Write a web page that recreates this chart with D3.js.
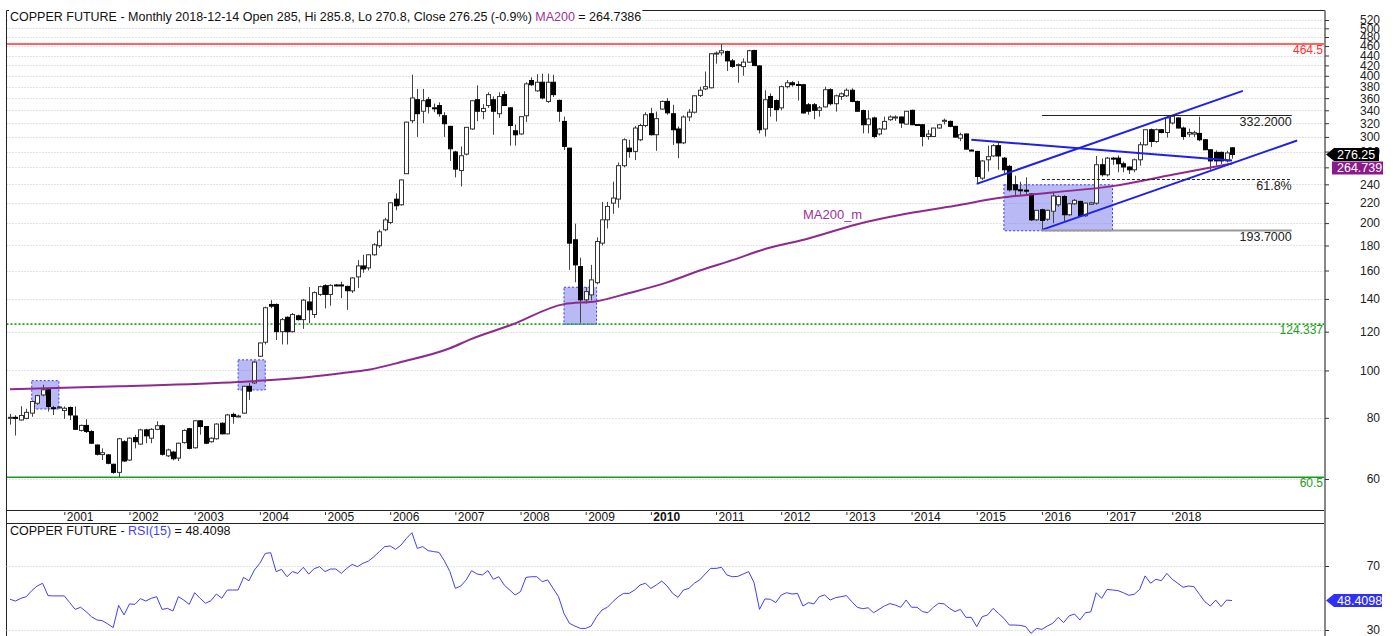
<!DOCTYPE html>
<html>
<head><meta charset="utf-8">
<style>
  body { margin: 0; background: #fff; }
  svg text { font-family: "Liberation Sans", Arial, sans-serif; }
</style>
</head>
<body>
<script src="https://d3js.org/d3.v7.min.js"></script>
<script>
// monthly candles, first one is 2000-03, last one 2018-12
var firstMonth = "2000-03";

var opens = [80.0,80.2,79.2,79.8,81.8,85.7,89.1,91.3,83.9,84.0,
  82.8,84.0,80.7,75.4,77.2,75.0,70.4,67.3,67.2,64.3,
  61.9,71.5,65.6,72.9,70.7,75.6,72.7,75.8,77.1,66.9,
  68.1,66.2,71.2,76.0,69.5,78.9,76.8,71.5,72.5,78.0,
  74.2,81.3,80.5,81.8,92.8,94.3,106.9,114.2,136.4,136.4,
  120.0,128.4,120.0,129.3,127.0,138.0,130.1,143.0,149.0,143.0,
  149.5,149.5,148.5,145.4,155.3,163.5,162.0,172.3,179.8,193.8,
  200.6,223.8,218.0,252.3,323.8,357.4,338.5,357.4,344.0,347.7,
  331.4,315.3,279.5,256.1,276.7,311.4,357.4,338.0,347.7,357.4,
  334.6,366.0,344.0,308.8,304.2,331.4,391.2,372.6,388.0,354.5,
  388.0,356.3,322.7,284.6,184.9,163.0,139.4,142.7,151.1,182.0,
  203.1,219.7,223.9,262.0,284.6,280.2,296.0,316.5,334.6,303.1,
  342.0,354.5,334.6,311.4,291.7,329.5,337.0,364.7,376.0,378.0,
  444.0,445.6,448.5,429.0,421.0,417.6,426.5,450.6,419.0,311.4,
  362.9,356.0,344.0,380.0,387.0,384.0,383.5,349.0,349.0,340.0,
  345.5,374.6,350.7,362.9,364.0,373.7,354.5,339.6,317.7,328.0,
  304.2,311.4,325.3,329.0,329.5,318.6,340.0,318.0,317.7,300.6,
  300.6,312.8,324.0,322.7,315.3,298.2,304.2,282.0,280.2,247.1,
  269.4,274.3,287.9,271.5,261.2,239.5,233.9,233.5,229.4,203.1,
  213.0,203.7,211.5,218.0,226.6,208.0,219.0,221.5,207.0,218.5,
  219.7,263.2,251.0,271.5,271.5,264.4,260.4,257.0,269.4,289.1,
  310.3,293.6,310.3,306.3,320.3,328.0,312.8,304.0,304.0,305.0,
  296.0,282.4,279.0,279.0,268.0,285.0];

var highs = [81.5,81.0,84.5,83.5,86.8,89.2,93.5,91.8,84.6,84.5,
  84.4,84.4,84.4,77.5,79.5,75.5,70.6,69.3,67.5,64.5,
  72.8,72.0,73.0,73.9,76.0,76.0,76.2,78.7,77.5,69.2,
  68.5,71.2,75.8,76.3,79.2,79.2,77.0,73.0,78.0,78.3,
  81.5,82.0,81.2,93.0,94.3,104.5,114.0,135.0,139.2,137.0,
  128.0,129.0,131.0,130.0,140.0,148.0,145.0,149.0,150.0,150.0,
  150.2,151.8,149.0,155.0,168.0,172.3,172.5,182.0,194.0,205.0,
  220.5,230.0,245.5,322.0,402.0,376.0,376.0,362.0,351.0,353.0,
  337.0,316.0,281.0,286.8,314.0,356.5,382.3,350.0,370.0,363.0,
  370.0,372.0,345.0,318.0,331.0,388.0,397.0,403.0,404.0,404.0,
  402.0,357.5,330.0,285.0,199.5,170.0,148.0,164.3,187.0,221.0,
  221.0,243.0,266.0,298.0,296.0,316.0,319.0,337.0,344.0,338.0,
  356.0,360.0,349.0,315.0,332.0,342.0,365.0,380.0,408.0,444.5,
  448.5,464.5,450.0,433.0,424.0,434.0,452.0,452.0,420.0,373.7,
  368.0,358.0,382.0,392.0,390.0,390.0,385.0,352.0,352.0,347.0,
  380.0,377.0,366.0,370.0,377.0,377.0,356.0,341.0,340.0,330.0,
  313.0,330.0,332.0,332.0,330.0,339.0,341.0,318.5,318.0,310.0,
  313.0,318.0,327.0,324.0,316.0,306.0,305.0,283.0,281.0,269.0,
  288.0,290.0,292.6,273.0,263.0,250.0,243.0,248.0,230.0,212.4,
  214.0,213.0,232.0,228.0,228.0,220.0,224.0,222.0,220.0,221.0,
  274.3,271.0,273.0,273.0,275.0,267.0,261.0,271.0,293.0,310.5,
  312.0,312.0,311.0,332.0,332.2,329.0,315.0,312.0,309.0,330.0,
  297.0,283.0,281.5,280.0,281.0,285.8];

var lows = [77.5,73.6,79.0,79.5,80.4,85.0,88.5,82.4,81.1,83.6,
  79.6,79.2,75.6,75.0,74.5,70.8,67.0,65.6,64.3,61.5,
  60.5,65.0,65.3,69.3,70.5,71.0,71.0,75.5,67.0,66.5,
  65.5,65.3,70.9,69.0,69.2,73.9,70.7,71.2,72.2,74.0,
  74.0,77.8,80.2,81.5,87.1,93.8,106.5,113.0,134.0,115.4,
  113.0,113.0,119.5,126.5,121.6,124.9,128.0,142.0,133.9,135.6,
  148.5,140.5,133.0,144.0,147.5,158.3,160.0,171.5,178.0,192.5,
  199.0,212.4,217.0,252.0,320.0,300.0,320.0,335.0,337.0,330.0,
  300.0,268.0,248.0,237.6,275.0,310.0,323.0,326.0,344.0,303.0,
  328.0,347.0,288.0,288.0,303.0,322.0,381.0,371.0,358.0,352.0,
  362.0,322.0,282.0,160.5,151.4,125.1,137.0,139.0,150.0,180.0,
  195.0,209.0,215.0,260.0,272.0,269.0,294.0,314.0,302.0,281.0,
  341.0,333.0,289.0,271.5,290.0,323.0,335.0,362.0,374.0,377.0,
  423.5,440.0,409.0,415.0,387.0,400.0,425.0,419.0,305.0,300.6,
  330.0,322.7,340.0,377.0,380.0,356.0,335.0,333.0,326.0,330.0,
  344.5,348.0,338.0,357.0,362.0,353.0,338.0,305.0,305.0,298.0,
  302.0,310.0,323.5,323.5,313.0,318.0,317.0,317.0,287.0,296.0,
  300.0,312.0,318.0,314.0,299.0,294.0,283.0,281.0,241.0,245.0,
  255.0,273.0,257.0,253.0,232.0,226.6,228.0,228.0,202.0,202.0,
  193.7,202.0,200.0,216.0,202.0,207.0,218.0,206.0,206.0,218.0,
  218.0,249.0,249.0,263.0,254.0,254.0,252.0,254.0,262.0,288.0,
  286.0,292.0,305.0,299.0,318.0,312.5,296.0,300.0,300.0,294.0,
  282.0,257.0,262.0,264.0,266.0,270.8];

var closes = [80.2,79.8,80.9,82.1,86.4,88.8,91.3,84.4,83.5,84.2,
  83.7,81.1,75.8,77.2,75.0,71.0,67.4,67.9,64.6,61.9,
  72.5,65.3,72.7,71.5,75.6,73.5,75.8,77.1,67.4,68.8,
  66.0,71.0,75.4,69.3,78.9,76.8,71.0,72.7,77.7,74.2,
  81.1,80.5,80.7,92.8,90.7,104.0,113.8,134.3,135.3,120.0,
  127.0,120.0,130.1,127.0,139.2,133.0,144.2,148.3,143.0,149.2,
  149.3,148.8,145.5,154.5,163.5,161.2,172.3,180.6,192.0,203.0,
  220.0,217.0,245.0,321.6,360.3,334.6,355.7,346.0,343.5,334.6,
  319.2,283.7,257.8,274.6,313.8,355.7,338.5,343.0,366.0,338.5,
  362.9,347.7,316.5,303.0,330.0,385.0,383.5,388.0,360.3,388.0,
  366.0,338.5,286.9,182.0,164.3,139.4,144.9,153.1,183.4,203.1,
  216.3,225.0,262.0,296.0,280.0,312.8,316.5,333.0,303.1,326.9,
  354.5,336.0,310.3,291.7,329.5,337.0,364.0,373.7,380.0,443.7,
  445.0,450.0,429.0,418.0,421.5,426.5,450.0,419.6,310.3,357.4,
  344.6,341.0,380.0,387.0,383.5,383.5,335.8,338.5,340.0,344.0,
  374.6,350.7,364.0,367.5,373.7,354.5,338.5,317.7,326.5,300.6,
  311.4,322.7,329.5,329.5,320.3,338.5,317.7,317.5,300.6,304.0,
  312.8,317.7,324.4,315.3,299.7,303.1,283.2,281.5,249.0,267.9,
  273.4,287.9,274.3,257.0,233.9,233.9,233.5,233.0,203.1,212.4,
  202.5,212.4,227.2,226.6,208.0,219.0,222.6,207.0,219.7,220.0,
  263.2,251.1,271.5,271.0,264.4,260.4,257.0,269.4,289.1,310.3,
  293.6,310.3,306.3,328.0,330.6,312.8,300.6,306.3,306.0,296.0,
  282.4,268.0,268.0,268.0,278.2,276.25];

var rsi15 = [49.2,48.1,49.8,50.8,54.6,57.5,59.2,51.5,51.3,51.3,
  51.3,47.1,42.9,44.2,41.5,38.3,36.3,35.8,33.8,31.5,
  45.4,39.4,46.3,46.0,49.6,48.1,49.8,50.8,42.9,43.5,
  41.9,50.8,48.7,46.0,53.3,49.8,46.7,48.3,52.5,49.8,
  55.0,55.0,55.0,62.9,60.8,67.5,71.7,77.9,78.3,66.5,
  67.9,63.3,66.5,65.4,69.2,65.0,68.3,69.6,66.5,68.1,
  68.1,65.4,68.5,71.0,69.6,71.7,73.1,75.8,79.0,82.1,
  82.5,80.4,83.1,87.3,90.8,81.0,82.1,79.6,79.0,78.5,
  73.1,66.5,56.0,57.5,61.3,67.1,65.0,64.4,67.1,61.7,
  63.3,58.1,55.0,51.9,54.0,62.9,63.3,63.3,60.2,61.3,
  56.0,50.8,40.4,34.2,32.5,31.0,31.0,32.5,38.3,42.5,
  44.2,47.7,50.8,52.9,52.9,55.0,58.1,59.2,56.0,58.1,
  60.6,57.5,52.9,50.4,55.0,56.0,59.2,61.3,65.0,68.5,
  68.5,69.2,64.4,63.3,63.5,65.0,66.5,59.6,42.9,49.4,
  49.2,47.1,51.9,53.3,52.5,52.9,45.0,47.1,46.3,50.8,
  51.9,48.7,50.2,50.8,51.5,47.7,44.2,43.3,43.9,40.8,
  42.9,45.0,46.5,45.6,44.2,48.7,44.2,44.2,41.5,40.8,
  44.2,46.7,46.3,43.5,41.5,42.9,37.9,37.9,32.1,38.3,
  39.4,43.5,40.4,37.3,33.1,33.1,32.9,32.1,27.9,31.0,
  30.4,32.5,34.2,37.9,34.6,38.8,40.0,36.3,40.8,41.3,
  53.3,49.8,55.4,55.0,54.6,53.3,51.7,52.3,55.4,63.8,
  59.2,61.7,60.8,65.4,61.7,59.2,56.7,57.5,57.1,52.3,
  47.7,45.0,48.7,44.6,48.7,48.4098];

// MA200
var maMonths = ["2000-03","2001-11","2003-09","2004-10","2005-04","2005-09","2006-03","2006-12",
  "2007-04","2007-11","2008-09","2009-03","2009-09","2010-04","2010-10","2011-04","2011-10",
  "2012-06","2013-03","2013-12","2014-09","2015-05","2016-03","2017-02","2018-01","2018-12"];
var maValues = [91.5,92.8,94.7,97.0,98.7,100.3,104.0,111.0,116.0,123.5,136.6,138.5,143.9,
  151.3,160.0,168.0,177.0,186.0,199.0,209.0,217.0,225.0,231.0,238.0,251.0,264.739];

var priceTicks = d3.range(60, 521, 20);
var years = d3.range(2001, 2019);
var rsiTicks = [30, 70];

var boxes = [
  {from: "2000-07", to: "2000-12", lo: 83.4, hi: 95.3},
  {from: "2003-09", to: "2004-02", lo: 91.2, hi: 105.1},
  {from: "2008-09", to: "2009-03", lo: 124.3, hi: 147.9},
  {from: "2015-06", to: "2017-02", lo: 192.9, hi: 239.5}
];

var trendLines = [
  [["2014-12", 296.0], ["2018-12", 268.5]],
  [["2015-01", 240.5], ["2019-02", 372.6]],
  [["2016-01", 193.7], ["2019-12", 295.0]]
];

var levels = [
  {from: "2016-01", to: "2019-11", value: 332.2, label: "332.2000"},
  {from: "2016-01", to: "2019-11", value: 246.6, label: "61.8%"},
  {from: "2016-01", to: "2019-11", value: 193.7, label: "193.7000"}
];

var W = 1397, H = 636;
var L = 6.5, R = 1325, T = 10.5, B = 510;

function mi(s) {
  var p = s.split("-"), f = firstMonth.split("-");
  return (+p[0] - +f[0]) * 12 + (+p[1] - +f[1]);
}

var svg = d3.select("body").append("svg")
  .attr("width", W).attr("height", H)
  .style("display", "block");

svg.append("rect").attr("width", W).attr("height", H).attr("fill", "#fff");

var x = d3.scaleLinear().domain([0, opens.length - 1]).range([10, 1232]);
var y = d3.scaleLog().domain([60, 520]).range([479, 20]);
var ry = d3.scaleLinear().domain([30, 70]).range([630, 566]);

svg.append("clipPath").attr("id", "pclip")
  .append("rect").attr("x", L).attr("y", T).attr("width", R - L).attr("height", B - T);

// grid
svg.append("g").selectAll("line").data(priceTicks).join("line")
  .attr("x1", L).attr("x2", R)
  .attr("y1", d => Math.round(y(d)) + 0.5).attr("y2", d => Math.round(y(d)) + 0.5)
  .attr("stroke", "#c4c4c4").attr("stroke-dasharray", "1,2");

var plot = svg.append("g").attr("clip-path", "url(#pclip)");

// shaded boxes
plot.append("g").selectAll("rect").data(boxes).join("rect")
  .attr("x", d => x(mi(d.from)))
  .attr("width", d => x(mi(d.to)) - x(mi(d.from)))
  .attr("y", d => y(d.hi))
  .attr("height", d => y(d.lo) - y(d.hi))
  .attr("fill", "#7474ee").attr("fill-opacity", 0.5)
  .attr("stroke", "#3a3aff").attr("stroke-dasharray", "2,2");

// flat levels across the chart
var hl = [
  {v: 464.5, c: "#ff3030", w: 1.6, dash: null},
  {v: 124.337, c: "#1aa51a", w: 1.8, dash: "2,2"},
  {v: 60.5, c: "#1a9a1a", w: 1.6, dash: null}
];
plot.append("g").selectAll("line").data(hl).join("line")
  .attr("x1", L).attr("x2", R)
  .attr("y1", d => y(d.v)).attr("y2", d => y(d.v))
  .attr("stroke", d => d.c).attr("stroke-width", d => d.w)
  .attr("stroke-dasharray", d => d.dash);

// candles
var idx = d3.range(opens.length);
var candles = plot.append("g").selectAll("g").data(idx).join("g");
candles.append("line")
  .attr("x1", i => Math.round(x(i)) + 0.5).attr("x2", i => Math.round(x(i)) + 0.5)
  .attr("y1", i => y(highs[i])).attr("y2", i => y(lows[i]))
  .attr("stroke", "#444");
candles.append("rect")
  .attr("x", i => Math.round(x(i)) - 1.5)
  .attr("width", 4)
  .attr("y", i => y(Math.max(opens[i], closes[i])))
  .attr("height", i => Math.max(1, Math.abs(y(opens[i]) - y(closes[i]))))
  .attr("fill", i => closes[i] >= opens[i] ? "#fff" : "#000")
  .attr("stroke", i => closes[i] >= opens[i] ? "#333" : "#000");

// MA200
plot.append("path")
  .datum(maMonths.map((m, k) => [mi(m), maValues[k]]))
  .attr("d", d3.line().x(d => x(d[0])).y(d => y(d[1])).curve(d3.curveMonotoneX))
  .attr("fill", "none").attr("stroke", "#8e2a8e").attr("stroke-width", 2);

plot.append("text")
  .attr("x", x(mi("2012-05"))).attr("y", y(209) + 5)
  .attr("fill", "#993399").style("font-size", "13px")
  .text("MA200_m");

// trend lines
plot.append("g").selectAll("line").data(trendLines).join("line")
  .attr("x1", d => x(mi(d[0][0]))).attr("y1", d => y(d[0][1]))
  .attr("x2", d => x(mi(d[1][0]))).attr("y2", d => y(d[1][1]))
  .attr("stroke", "#1f1fee").attr("stroke-width", 2);

// fib levels
var lv = plot.append("g").selectAll("g").data(levels).join("g");
lv.append("line")
  .attr("x1", d => x(mi(d.from))).attr("x2", d => x(mi(d.to)))
  .attr("y1", d => Math.round(y(d.value)) + 0.5).attr("y2", d => Math.round(y(d.value)) + 0.5)
  .attr("stroke", (d, i) => i === 2 ? "#999" : "#222")
  .attr("stroke-width", (d, i) => i === 2 ? 2 : 1)
  .attr("stroke-dasharray", (d, i) => i === 1 ? "3,2" : null);
lv.append("text")
  .attr("x", d => x(mi(d.to)))
  .attr("y", d => y(d.value) + 11)
  .attr("text-anchor", "end").attr("fill", "#222").style("font-size", "12.5px")
  .text(d => d.label);

// right-hand labels for the flat levels
var hlLabels = [
  {v: 464.5, t: "464.5", c: "#ff3030"},
  {v: 124.337, t: "124.337", c: "#22a022"},
  {v: 60.5, t: "60.5", c: "#22a022"}
];
svg.append("g").selectAll("text").data(hlLabels).join("text")
  .attr("x", R - 2).attr("y", d => y(d.v) + 10)
  .attr("text-anchor", "end").attr("fill", d => d.c).style("font-size", "12px")
  .text(d => d.t);

// frame
svg.append("line").attr("x1", L).attr("x2", L).attr("y1", T).attr("y2", H).attr("stroke", "#222");
svg.append("line").attr("x1", L).attr("x2", R).attr("y1", T).attr("y2", T).attr("stroke", "#222");
svg.append("line").attr("x1", L).attr("x2", R).attr("y1", B + 0.5).attr("y2", B + 0.5).attr("stroke", "#222");
svg.append("line").attr("x1", L).attr("x2", R).attr("y1", 523.5).attr("y2", 523.5).attr("stroke", "#222");
svg.append("line").attr("x1", R).attr("x2", R).attr("y1", T).attr("y2", H)
  .attr("stroke", "#888").attr("stroke-width", 2);

// price axis
var gy = svg.append("g").attr("transform", "translate(" + R + ",0)")
  .call(d3.axisRight(y).tickValues(priceTicks).tickFormat(d3.format("d")).tickSize(4));
gy.select(".domain").remove();
gy.selectAll(".tick line").attr("stroke", "#333");
gy.selectAll("text").attr("x", 55).attr("text-anchor", "end")
  .style("font-size", "12px").attr("fill", "#222")
  .style("font-family", "'Liberation Sans', Arial, sans-serif");

// year axis
var gx = svg.append("g").attr("transform", "translate(0," + (B + 1) + ")")
  .call(d3.axisBottom(x).tickValues(years.map(v => mi(v + "-01")))
    .tickFormat((d, i) => years[i]).tickSize(3));
gx.select(".domain").remove();
gx.selectAll(".tick line").attr("stroke", "#333").attr("transform", "translate(0,1)");
gx.selectAll("text").attr("x", 2).attr("y", 1).attr("dy", "0.75em")
  .attr("text-anchor", "start").style("font-size", "12px").attr("fill", "#111")
  .style("font-family", "'Liberation Sans', Arial, sans-serif")
  .style("font-weight", (d, i) => years[i] === 2010 ? "bold" : "normal");

// RSI panel
svg.append("g").selectAll("line").data(rsiTicks).join("line")
  .attr("x1", L).attr("x2", R)
  .attr("y1", d => Math.round(ry(d)) + 0.5).attr("y2", d => Math.round(ry(d)) + 0.5)
  .attr("stroke", "#c4c4c4").attr("stroke-dasharray", "1,2");

svg.append("path")
  .datum(rsi15)
  .attr("d", d3.line().x((d, i) => x(i)).y(d => ry(d)))
  .attr("fill", "none").attr("stroke", "#3f3ff5").attr("stroke-width", 1);

var gr = svg.append("g").attr("transform", "translate(" + R + ",0)")
  .call(d3.axisRight(ry).tickValues(rsiTicks).tickSize(4));
gr.select(".domain").remove();
gr.selectAll(".tick line").attr("stroke", "#333");
gr.selectAll("text").attr("x", 55).attr("text-anchor", "end")
  .style("font-size", "12px").attr("fill", "#222")
  .style("font-family", "'Liberation Sans', Arial, sans-serif");

// value tags on the right axis
function tag(yc, label, fill, arrow, x0, x1) {
  var g = svg.append("g");
  var h = 6.5;
  if (arrow) {
    g.append("path")
      .attr("d", "M" + (R + 1) + "," + yc + "L" + (R + 9) + "," + (yc - h) + "L" + x1 + "," + (yc - h) +
        "L" + x1 + "," + (yc + h) + "L" + (R + 9) + "," + (yc + h) + "Z")
      .attr("fill", fill);
  } else {
    g.append("rect").attr("x", x0).attr("y", yc - h).attr("width", x1 - x0).attr("height", 2 * h)
      .attr("fill", fill);
  }
  g.append("text").attr("x", R + 12).attr("y", yc + 4.5)
    .attr("fill", "#fff").style("font-size", "12.5px").text(label);
}
tag(y(closes[closes.length - 1]), "276.25", "#000", true, 0, 1379);
tag(y(maValues[maValues.length - 1]) + 4.5, "264.739", "#8b1a8b", false, 1332, 1383);
tag(ry(rsi15[rsi15.length - 1]), "48.4098", "#2f2ff5", true, 0, 1382);

// titles with white backing
function title(yb, parts) {
  var t = svg.append("text").attr("x", 10).attr("y", yb).style("font-size", "12.5px");
  parts.forEach(p => t.append("tspan").attr("fill", p[1]).text(p[0]));
  var bb = t.node().getBBox();
  svg.insert("rect", function () { return t.node(); })
    .attr("x", bb.x - 1).attr("y", bb.y).attr("width", bb.width + 2).attr("height", bb.height)
    .attr("fill", "#fff");
}
title(21, [["COPPER FUTURE - Monthly 2018-12-14 Open 285, Hi 285.8, Lo 270.8, Close 276.25 (-0.9%) ", "#111"],
  ["MA200", "#993399"], [" = 264.7386", "#111"]]);
title(535, [["COPPER FUTURE - ", "#111"], ["RSI(15)", "#3f3ff5"], [" = 48.4098", "#111"]]);
</script>
</body>
</html>
